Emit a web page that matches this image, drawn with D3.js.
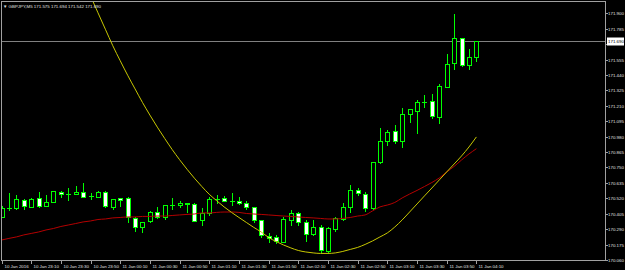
<!DOCTYPE html>
<html>
<head>
<meta charset="utf-8">
<title>GBPJPY M5</title>
<script src="https://cdnjs.cloudflare.com/ajax/libs/d3/7.8.5/d3.min.js"></script>
<style>
    html, body {
        margin: 0;
        padding: 0;
        background: #000;
    }
    svg text {
        font-family: "Liberation Sans", Arial, sans-serif;
    }
</style>
</head>
<body>
<svg id="chart" width="625" height="270"></svg>
<script>
// M5 bars, 10 Jan 22:50 -> 11 Jan 04:10
var opens = [170.383, 170.446, 170.446, 170.508, 170.458, 170.520, 170.465, 170.495, 170.570, 170.552,
    170.552, 170.565, 170.538, 170.532, 170.570, 170.458, 170.520, 170.523, 170.371, 170.304,
    170.353, 170.421, 170.383, 170.470, 170.468, 170.483, 170.478, 170.359, 170.409, 170.513,
    170.520, 170.500, 170.503, 170.488, 170.453, 170.359, 170.242, 170.230, 170.197, 170.359,
    170.413, 170.346, 170.254, 170.304, 170.130, 170.292, 170.364, 170.458, 170.582, 170.552,
    170.446, 170.793, 170.950, 171.022, 170.948, 171.147, 171.174, 171.241, 171.246, 171.129,
    171.348, 171.527, 171.714, 171.514, 171.575];
var highs = [170.463, 170.558, 170.545, 170.515, 170.520, 170.565, 170.545, 170.575, 170.572, 170.595,
    170.612, 170.632, 170.562, 170.577, 170.575, 170.515, 170.523, 170.528, 170.383, 170.346,
    170.428, 170.458, 170.470, 170.520, 170.503, 170.485, 170.483, 170.446, 170.532, 170.545,
    170.538, 170.558, 170.532, 170.500, 170.458, 170.361, 170.264, 170.247, 170.383, 170.433,
    170.421, 170.359, 170.359, 170.321, 170.309, 170.383, 170.483, 170.620, 170.595, 170.570,
    170.793, 171.042, 171.030, 171.067, 171.192, 171.184, 171.253, 171.291, 171.296, 171.373,
    171.597, 171.895, 171.716, 171.632, 171.694];
var lows = [170.381, 170.433, 170.438, 170.438, 170.453, 170.458, 170.465, 170.495, 170.532, 170.508,
    170.552, 170.528, 170.513, 170.532, 170.458, 170.438, 170.463, 170.346, 170.279, 170.271,
    170.346, 170.371, 170.366, 170.438, 170.458, 170.421, 170.351, 170.321, 170.396, 170.483,
    170.500, 170.470, 170.480, 170.438, 170.346, 170.234, 170.197, 170.189, 170.195, 170.321,
    170.321, 170.204, 170.247, 170.122, 170.122, 170.279, 170.359, 170.421, 170.545, 170.428,
    170.441, 170.786, 170.918, 170.931, 170.905, 171.092, 171.005, 171.204, 171.117, 171.084,
    171.348, 171.488, 171.507, 171.482, 171.542];
var closes = [170.446, 170.447, 170.513, 170.463, 170.513, 170.463, 170.495, 170.575, 170.552, 170.552,
    170.567, 170.528, 170.538, 170.570, 170.463, 170.513, 170.508, 170.383, 170.304, 170.346,
    170.421, 170.383, 170.470, 170.470, 170.488, 170.476, 170.353, 170.413, 170.513, 170.513,
    170.503, 170.500, 170.483, 170.458, 170.359, 170.247, 170.227, 170.202, 170.364, 170.413,
    170.346, 170.254, 170.304, 170.135, 170.297, 170.371, 170.453, 170.582, 170.558, 170.446,
    170.793, 170.950, 171.017, 170.948, 171.147, 171.184, 171.241, 171.241, 171.134, 171.358,
    171.522, 171.714, 171.514, 171.575, 171.690];

// red moving average
var maValues = [170.209, 170.221, 170.232, 170.247, 170.258, 170.269, 170.284, 170.295, 170.310, 170.321,
    170.332, 170.344, 170.351, 170.362, 170.366, 170.374, 170.377, 170.381, 170.381, 170.385,
    170.385, 170.388, 170.388, 170.392, 170.396, 170.400, 170.403, 170.411, 170.411, 170.415,
    170.418, 170.418, 170.415, 170.407, 170.403, 170.400, 170.396, 170.392, 170.388, 170.385,
    170.381, 170.377, 170.374, 170.370, 170.366, 170.366, 170.370, 170.377, 170.388, 170.396,
    170.426, 170.456, 170.470, 170.489, 170.523, 170.552, 170.579, 170.608, 170.638, 170.672,
    170.717, 170.758, 170.806, 170.851, 170.890];

// yellow curve, starts at bar 12 (left part is above the window)
var curveStart = 12;
var curveValues = [172.029, 171.904, 171.781, 171.658, 171.546, 171.438, 171.336, 171.235, 171.141, 171.051,
    170.966, 170.884, 170.808, 170.737, 170.670, 170.608, 170.550, 170.502, 170.456, 170.415,
    170.377, 170.340, 170.303, 170.269, 170.228, 170.198, 170.172, 170.150, 170.131, 170.120,
    170.113, 170.109, 170.109, 170.113, 170.124, 170.139, 170.154, 170.176, 170.202, 170.232,
    170.262, 170.306, 170.359, 170.418, 170.478, 170.538, 170.597, 170.657, 170.717, 170.776,
    170.836, 170.903, 170.978];

var priceTicks = [171.900, 171.785, 171.670, 171.555, 171.440, 171.325, 171.210, 171.095, 170.980,
    170.865, 170.750, 170.635, 170.520, 170.405, 170.290, 170.175, 170.060];
var timeLabels = ["10 Jan 2016", "10 Jan 23:10", "10 Jan 23:30", "10 Jan 23:50", "11 Jan 00:10",
    "11 Jan 00:30", "11 Jan 00:50", "11 Jan 01:10", "11 Jan 01:30", "11 Jan 01:50", "11 Jan 02:10",
    "11 Jan 02:30", "11 Jan 02:50", "11 Jan 03:10", "11 Jan 03:30", "11 Jan 03:50", "11 Jan 04:10"];
var barsPerLabel = 4;
var symbol = "GBPJPY,M5";

var bars = opens.map(function (o, i) {
    return { i: i, o: o, h: highs[i], l: lows[i], c: closes[i] };
});
var last = bars[bars.length - 1];

// plot box (window.top is reserved, so use a box object)
var box = { left: 1, right: 605, top: 1, bottom: 260 };
var fontSize = "4.4px";

var x = d3.scaleLinear().domain([0, 64]).range([1.5, 476.4]);
var y = d3.scaleLinear().domain([170.06, 171.90]).range([260, 13.3]);

var svg = d3.select("#chart");

svg.append("defs").append("clipPath").attr("id", "plotclip")
    .append("rect")
    .attr("x", box.left).attr("y", box.top)
    .attr("width", box.right - box.left).attr("height", box.bottom - box.top);

var plot = svg.append("g").attr("clip-path", "url(#plotclip)");

// current price line
var lastY = Math.round(y(last.c)) + 0.5;
plot.append("line")
    .attr("x1", box.left).attr("x2", box.right)
    .attr("y1", lastY).attr("y2", lastY)
    .attr("stroke", "#808080");

// candles
var green = "#00ff00";
var candles = plot.append("g").attr("shape-rendering", "crispEdges");

bars.forEach(function (d) {
    var cx = Math.round(x(d.i));
    var yh = Math.round(y(d.h)), yl = Math.round(y(d.l));
    var yt = Math.round(y(Math.max(d.o, d.c))), yb = Math.round(y(Math.min(d.o, d.c)));
    var g = candles.append("g");
    g.append("rect")
        .attr("x", cx).attr("y", yh)
        .attr("width", 1).attr("height", Math.max(1, yl - yh + 1))
        .attr("fill", green);
    g.append("rect")
        .attr("x", cx - 2).attr("y", yt)
        .attr("width", 5).attr("height", Math.max(1, yb - yt + 1))
        .attr("fill", green);
    if (yb - yt >= 2) {
        g.append("rect")
            .attr("x", cx - 1).attr("y", yt + 1)
            .attr("width", 3).attr("height", yb - yt - 1)
            .attr("fill", d.c >= d.o ? "#000" : "#fff");
    }
});

// moving average
plot.append("path")
    .datum(maValues)
    .attr("fill", "none")
    .attr("stroke", "#b40000")
    .attr("stroke-width", 1)
    .attr("d", d3.line()
        .x(function (d, i) { return x(i); })
        .y(function (d) { return y(d); })
        .curve(d3.curveMonotoneX));

// yellow curve
plot.append("path")
    .datum(curveValues)
    .attr("fill", "none")
    .attr("stroke", "#c8c800")
    .attr("stroke-width", 1)
    .attr("d", d3.line()
        .x(function (d, i) { return x(i + curveStart); })
        .y(function (d) { return y(d); })
        .curve(d3.curveMonotoneX));

// frame
var frame = svg.append("g").attr("shape-rendering", "crispEdges").attr("stroke", "#a0a0a0");
frame.append("line").attr("x1", box.left + 0.5).attr("x2", box.left + 0.5).attr("y1", box.top).attr("y2", box.bottom);
frame.append("line").attr("x1", box.right + 0.5).attr("x2", box.right + 0.5).attr("y1", box.top).attr("y2", box.bottom + 1);
frame.append("line").attr("x1", box.left).attr("x2", box.right).attr("y1", box.top + 0.5).attr("y2", box.top + 0.5);
frame.append("line").attr("x1", box.left).attr("x2", box.right + 1).attr("y1", box.bottom + 0.5).attr("y2", box.bottom + 0.5);

// price axis (labels hidden under the current price box are skipped)
var yAxis = svg.append("g");
priceTicks.forEach(function (p) {
    var py = Math.round(y(p)) + 0.5;
    yAxis.append("line")
        .attr("x1", box.right + 1).attr("x2", box.right + 3)
        .attr("y1", py).attr("y2", py)
        .attr("stroke", "#a0a0a0");
    if (Math.abs(py - lastY) < 7) return;
    yAxis.append("text")
        .attr("x", box.right + 3).attr("y", py)
        .attr("dy", "0.35em")
        .attr("font-size", fontSize)
        .attr("fill", "#e0e0e0")
        .text(p.toFixed(3));
});

// current price box
yAxis.append("rect")
    .attr("x", box.right + 2).attr("y", lastY - 4)
    .attr("width", 17).attr("height", 8)
    .attr("fill", "#fff");
yAxis.append("text")
    .attr("x", box.right + 3).attr("y", lastY)
    .attr("dy", "0.35em")
    .attr("font-size", fontSize)
    .attr("fill", "#000")
    .text(last.c.toFixed(3));

// time axis
var xAxis = svg.append("g");
timeLabels.forEach(function (t, k) {
    var tx = Math.round(x(k * barsPerLabel)) + 0.5;
    xAxis.append("line")
        .attr("x1", tx).attr("x2", tx)
        .attr("y1", box.bottom + 1).attr("y2", box.bottom + 4)
        .attr("stroke", "#a0a0a0");
    xAxis.append("text")
        .attr("x", tx + 2).attr("y", box.bottom + 7.5)
        .attr("font-size", fontSize)
        .attr("fill", "#e0e0e0")
        .text(t);
});

// header
svg.append("text")
    .attr("x", 3).attr("y", 7.5)
    .attr("font-size", fontSize)
    .attr("fill", "#e0e0e0")
    .text("\u25BC " + symbol + "  " + last.o.toFixed(3) + " " + last.h.toFixed(3) + " " +
        last.l.toFixed(3) + " " + last.c.toFixed(3));
</script>
</body>
</html>
